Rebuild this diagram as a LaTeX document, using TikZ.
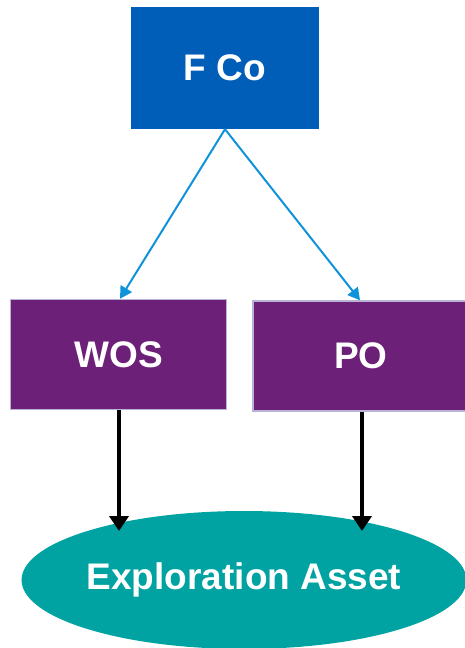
\documentclass[tikz,border=0pt]{standalone}
\usepackage{fontspec}
\setmainfont{Liberation Sans}
\usetikzlibrary{shapes.geometric}
\usetikzlibrary{positioning,arrows.meta}

\definecolor{fcoblue}{HTML}{005EB8}
\definecolor{entpurple}{HTML}{6D2077}
\definecolor{entborder}{HTML}{B9B3D6}
\definecolor{assetteal}{HTML}{00A3A1}
\definecolor{linkblue}{HTML}{0E93DA}

\begin{document}
\begin{tikzpicture}[
            x=1pt, y=-1pt,
            lbl/.style={text=white, font=\fontsize{37}{42}\selectfont\bfseries},
            owner/.style={rectangle, fill=fcoblue, minimum width=188pt, minimum height=122pt, inner sep=0pt, lbl},
            entity/.style={rectangle, fill=entpurple, draw=entborder, line width=1.5pt, minimum width=216pt, minimum height=110pt, inner sep=0pt, lbl},
            asset/.style={ellipse, fill=assetteal, minimum width=440pt, minimum height=138pt, inner sep=0pt, lbl},
            holds/.style={linkblue, line width=2pt, -{Triangle[length=12pt,width=13pt]}},
            owns/.style={black, line width=4pt, -{Triangle[length=15pt,width=19pt]}}]
            \clip (0,0) rectangle (465,648);
            \useasboundingbox (0,0) rectangle (465,648);
            \node[owner](fco) at (225,68){F Co};
            \node[entity](wos) at (118.5,354.5){WOS};
            \node[entity](po) at (361,356){PO};
            \node[asset](asset) at (244,580){Exploration Asset};
            \coordinate (wosin) at (119,531);
            \coordinate (poin) at (362,531);
            
            \draw[holds] (fco.south) -- (wos.north -| 120,0);
            \draw[holds] (fco.south) -- (po.north -| 360,0);
            \draw[owns] (wos.south -| wosin) -- (wosin);
            \draw[owns] (po.south -| poin) -- (poin);
            \end{tikzpicture}
\end{document}
